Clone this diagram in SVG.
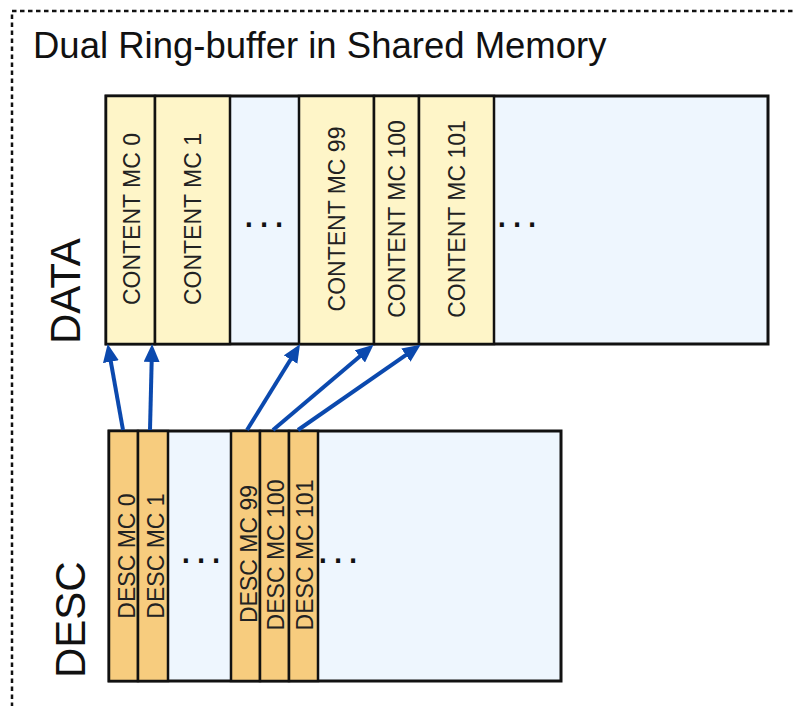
<svg xmlns="http://www.w3.org/2000/svg" width="793" height="706" viewBox="0 0 793 706">
<style>
.frame{fill:none;stroke:#111;stroke-width:2.5;stroke-dasharray:4.5 3.5}
.title{font-family:"Liberation Sans",Arial,sans-serif;font-size:36.5px;fill:#111}
.side{font-family:"Liberation Sans",Arial,sans-serif;font-size:42px;fill:#111}
.lbl{font-family:"Liberation Sans",Arial,sans-serif;font-size:23px;fill:#222;text-anchor:middle}
.dots{font-family:"Liberation Sans",Arial,sans-serif;font-size:42px;fill:#111;letter-spacing:3.5px}
.bg{fill:#EEF6FE;stroke:#111;stroke-width:3}
.content{fill:#FEF5C8;stroke:#111;stroke-width:2.5}
.desc{fill:#F7CC7E;stroke:#111;stroke-width:2.5}
.arrow{fill:none;stroke:#0B49AE;stroke-width:4}
</style>
<defs>
<marker id="ah" markerUnits="userSpaceOnUse" markerWidth="18" markerHeight="16" refX="6" refY="8" orient="auto">
<path d="M0,0 L18,8 L0,16 z" fill="#0B49AE"/>
</marker>
</defs>
<rect class="frame" x="12" y="11" width="800" height="720"/>
<text class="title" x="33" y="58">Dual Ring-buffer in Shared Memory</text>
<text class="side" transform="translate(80,344) rotate(-90)">DATA</text>
<text class="side" transform="translate(85,678) rotate(-90)">DESC</text>
<g id="data-buffer">
<rect class="bg" x="106" y="96" width="662" height="248"/>
<text class="dots" x="243" y="227">...</text>
<text class="dots" x="496" y="227">...</text>
</g>
<g id="content-mc-0"><rect class="content" x="106" y="96" width="49" height="248"/><text class="lbl" transform="translate(132,219) rotate(-90)" y="8">CONTENT MC 0</text></g>
<g id="content-mc-1"><rect class="content" x="155" y="96" width="75" height="248"/><text class="lbl" transform="translate(193,219) rotate(-90)" y="8">CONTENT MC 1</text></g>
<g id="content-mc-99"><rect class="content" x="299" y="96" width="75" height="248"/><text class="lbl" transform="translate(337,219) rotate(-90)" y="8">CONTENT MC 99</text></g>
<g id="content-mc-100"><rect class="content" x="374" y="96" width="45" height="248"/><text class="lbl" transform="translate(397,219) rotate(-90)" y="8">CONTENT MC 100</text></g>
<g id="content-mc-101"><rect class="content" x="419" y="96" width="75" height="248"/><text class="lbl" transform="translate(457,219) rotate(-90)" y="8">CONTENT MC 101</text></g>
<g id="desc-buffer">
<rect class="bg" x="109" y="431" width="452" height="250"/>
<text class="dots" x="180" y="563">...</text>
<text class="dots" x="317" y="563">...</text>
</g>
<g id="desc-mc-0"><rect class="desc" x="109" y="431" width="29" height="250"/><text class="lbl" transform="translate(127,556) rotate(-90)" y="8">DESC MC 0</text></g>
<g id="desc-mc-1"><rect class="desc" x="138" y="431" width="30" height="250"/><text class="lbl" transform="translate(156,556) rotate(-90)" y="8">DESC MC 1</text></g>
<g id="desc-mc-99"><rect class="desc" x="231" y="431" width="29" height="250"/><text class="lbl" transform="translate(249,554) rotate(-90)" y="8">DESC MC 99</text></g>
<g id="desc-mc-100"><rect class="desc" x="260" y="431" width="29" height="250"/><text class="lbl" transform="translate(276,555) rotate(-90)" y="8">DESC MC 100</text></g>
<g id="desc-mc-101"><rect class="desc" x="289" y="431" width="29" height="250"/><text class="lbl" transform="translate(305,555) rotate(-90)" y="8">DESC MC 101</text></g>
<g id="connectors">
<path class="arrow" d="M123,430 L109.8,355.8" marker-end="url(#ah)"/>
<path class="arrow" d="M150,430 L151.8,356" marker-end="url(#ah)"/>
<path class="arrow" d="M247,430 L293.7,354.5" marker-end="url(#ah)"/>
<path class="arrow" d="M273,430 L364.4,352.5" marker-end="url(#ah)"/>
<path class="arrow" d="M298,430 L410.8,351.7" marker-end="url(#ah)"/>
</g>
</svg>
